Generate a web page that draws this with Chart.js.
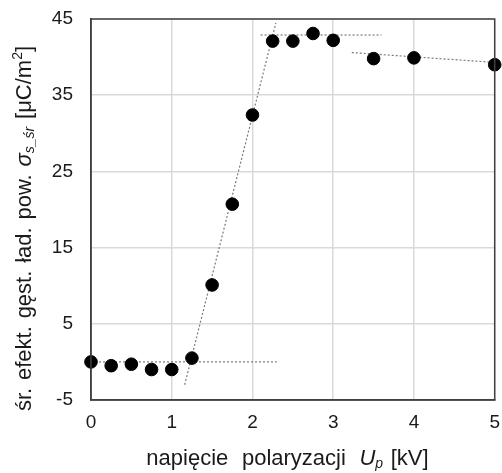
<!DOCTYPE html>
<html>
<head>
<meta charset="utf-8">
<script src="https://cdn.jsdelivr.net/npm/chart.js@4"></script>
<style>
  body { margin: 0; background: #fff; }
  #wrap { width: 502px; height: 473px; }
</style>
</head>
<body>
<div id="wrap"><canvas id="chart"></canvas></div>
<script>
// measured points
const voltage = [0, 0.25, 0.5, 0.75, 1, 1.25, 1.5, 1.75, 2, 2.25, 2.5, 2.75, 3, 3.5, 4, 5];
const density = [0, -0.5, -0.3, -1.0, -1.0, 0.5, 10.1, 20.7, 32.4, 42.1, 42.1, 43.1, 42.2, 39.8, 39.9, 39.0];

// dotted trend lines (end points)
const trendLowX = [0, 2.3];
const trendLowY = [0, 0];
const trendRiseX = [1.16, 2.29];
const trendRiseY = [-3.0, 44.5];
const trendHighX = [2.1, 3.6];
const trendHighY = [42.9, 42.9];
const trendTailX = [3.23, 5.0];
const trendTailY = [40.6, 39.3];

// axis ticks
const xTicks = [0, 1, 2, 3, 4, 5];
const yTicks = [-5, 5, 15, 25, 35, 45];

const FONT = 'Liberation Sans, Arial, sans-serif';

function pts(xs, ys) {
    return xs.map((x, i) => ({ x: x, y: ys[i] }));
}

function trend(xs, ys) {
    return {
        type: 'line',
        data: pts(xs, ys),
        borderColor: '#7a7a7a',
        borderWidth: 1.2,
        borderDash: [2, 2],
        pointRadius: 0,
        fill: false,
        clip: false
    };
}

// draws mixed-style text centered at (cx, cy); extra = added width per space
function richText(ctx, parts, cx, cy, angle, extra) {
    ctx.save();
    ctx.translate(cx, cy);
    ctx.rotate(angle);
    ctx.textBaseline = 'middle';
    ctx.fillStyle = '#1a1a1a';
    const gapOf = p => (p.extra !== undefined ? p.extra : extra);
    const widthOf = p => {
        ctx.font = p.font;
        const spaces = p.text.split(' ').length - 1;
        return ctx.measureText(p.text).width + spaces * gapOf(p);
    };
    let total = 0;
    parts.forEach(p => { total += widthOf(p); });
    let x = -total / 2;
    parts.forEach(p => {
        ctx.font = p.font;
        const words = p.text.split(' ');
        words.forEach((w, i) => {
            ctx.fillText(w, x, p.dy || 0);
            x += ctx.measureText(w).width;
            if (i < words.length - 1) x += ctx.measureText(' ').width + gapOf(p);
        });
    });
    ctx.restore();
}

const titlesPlugin = {
    id: 'titles',
    afterDraw(chart) {
        const ctx = chart.ctx;
        const a = chart.chartArea;
        // box around the plot
        ctx.save();
        ctx.strokeStyle = '#404040';
        ctx.lineWidth = 1.5;
        ctx.strokeRect(a.left, a.top, a.right - a.left, a.bottom - a.top);
        ctx.restore();

        const n = '22px ' + FONT, it = 'italic 22px ' + FONT, sm = 'italic 14px ' + FONT, sup = '14px ' + FONT;
        richText(ctx, [
            { text: 'napięcie polaryzacji ', font: n },
            { text: 'U', font: it },
            { text: 'p', font: sm, dy: 5 },
            { text: ' [kV]', font: n, extra: 1.5 }
        ], 287.5, 459, 0, 7.5);
        richText(ctx, [
            { text: 'śr. efekt. gęst. ład. pow. ', font: n },
            { text: 'σ', font: it },
            { text: 's_śr', font: sm, dy: 5 },
            { text: ' [μC/m', font: n },
            { text: '2', font: sup, dy: -7 },
            { text: ']', font: n }
        ], 25, 228.5, -Math.PI / 2, 1.7);
    }
};

new Chart(document.getElementById('chart'), {
    type: 'scatter',
    data: {
        datasets: [
            {
                data: pts(voltage, density),
                backgroundColor: '#000',
                borderColor: '#000',
                pointRadius: 6.3,
                pointHoverRadius: 6.3,
                clip: false
            },
            trend(trendLowX, trendLowY),
            trend(trendRiseX, trendRiseY),
            trend(trendHighX, trendHighY),
            trend(trendTailX, trendTailY)
        ]
    },
    options: {
        responsive: true,
        maintainAspectRatio: false,
        animation: false,
        layout: { padding: { top: 19, right: 2, bottom: 0, left: 0 } },
        plugins: { legend: { display: false }, tooltip: { enabled: false } },
        scales: {
            x: {
                type: 'linear',
                min: 0,
                max: 5,
                afterBuildTicks: s => { s.ticks = xTicks.map(v => ({ value: v })); },
                afterFit: s => { s.height = 73; s.paddingLeft = 0; s.paddingRight = 0; },
                ticks: { color: '#1a1a1a', font: { family: FONT, size: 19 }, padding: 11, maxRotation: 0 },
                grid: { color: '#d9d9d9', lineWidth: 1.5, drawTicks: false },
                border: { color: '#404040', width: 1.5 }
            },
            y: {
                type: 'linear',
                min: -5,
                max: 45,
                afterBuildTicks: s => { s.ticks = yTicks.map(v => ({ value: v })); },
                afterFit: s => { s.width = 91; s.paddingTop = 0; s.paddingBottom = 0; },
                ticks: { color: '#1a1a1a', font: { family: FONT, size: 19 }, padding: 18 },
                grid: { color: '#d9d9d9', lineWidth: 1.5, drawTicks: false },
                border: { color: '#404040', width: 1.5 }
            }
        }
    },
    plugins: [titlesPlugin]
});
</script>
</body>
</html>
